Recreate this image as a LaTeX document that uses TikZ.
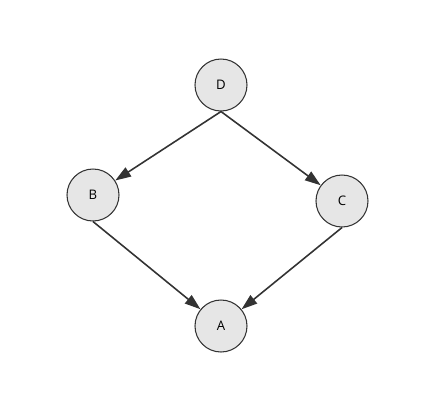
\documentclass[tikz,border=0pt]{standalone}
\usepackage{fontspec}
\setmainfont{Open Sans}
\usetikzlibrary{arrows.meta}

\begin{document}
\begin{tikzpicture}[x=0.02cm, y=-0.02cm]
    % Define colours
    \definecolor{borderColour}{HTML}{333333}
    \definecolor{fillColour}{HTML}{E6E6E6}

    % Macros for the node size and the arrow
    \def\nodeRadius{26} % Radius of each node
    \def\arrowLength{9pt} % Length of the arrow head

    % Styles
    \tikzset{
      varnode/.style={circle, draw=borderColour, fill=fillColour, line width=0.6pt,
        minimum size=2*\nodeRadius*0.02cm, inner sep=0pt, font=\fontsize{7.5}{9}\selectfont},
      edgeline/.style={draw=borderColour, line width=0.9pt,
        -{Triangle[length=\arrowLength, width=6pt]}}
    }

  % Fix the size of the picture
  \useasboundingbox (0,0) rectangle (430,414);

  % Place the nodes
  \node[varnode] (D) at (221,85) {D};
  \node[varnode] (B) at (93,195) {B};
  \node[varnode] (C) at (342,201) {C};
  \node[varnode] (A) at (221,326) {A};

  % Draw the edges
  \draw[edgeline] (D.south) -- (B);
  \draw[edgeline] (D.south) -- (C);
  \draw[edgeline] (B.south) -- (A);
  \draw[edgeline] (C.south) -- (A);

\end{tikzpicture}
\end{document}
